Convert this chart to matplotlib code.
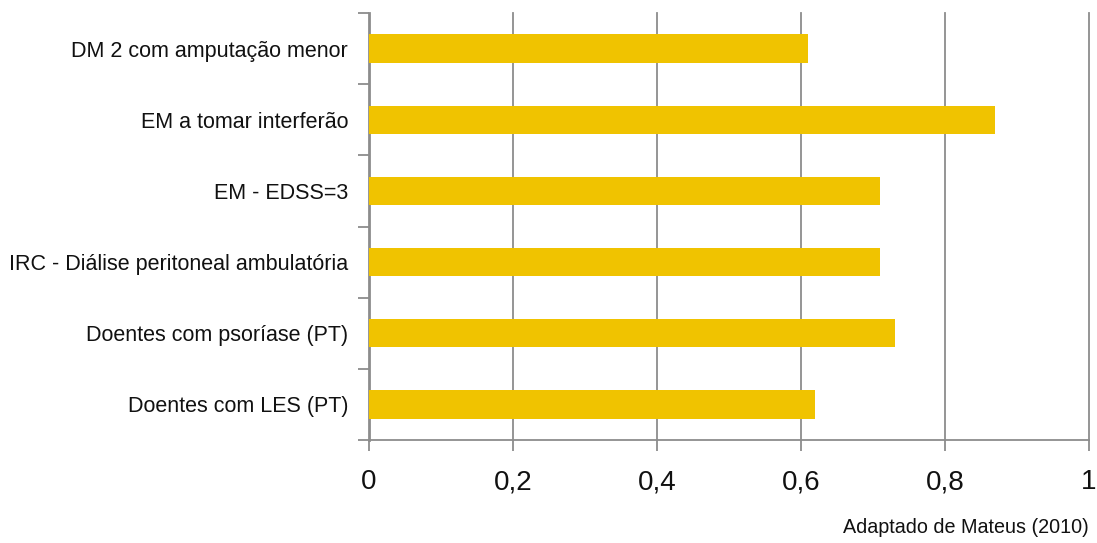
import matplotlib.pyplot as plt
import numpy as np

plt.rcParams['font.family'] = ['Liberation Sans', 'DejaVu Sans']

categorias = [
    'DM 2 com amputação menor',
    'EM a tomar interferão',
    'EM - EDSS=3',
    'IRC - Diálise peritoneal ambulatória',
    'Doentes com psoríase (PT)',
    'Doentes com LES (PT)',
]
valores = [0.61, 0.87, 0.71, 0.71, 0.73, 0.62]
xticks = [0, 0.2, 0.4, 0.6, 0.8, 1]
xtick_labels = ['0', '0,2', '0,4', '0,6', '0,8', '1']

fig = plt.figure(figsize=(10.97, 5.43), dpi=100)
ax = fig.add_axes([0.3364, 0.1897, 0.6563, 0.7863])

n = len(categorias)
pos = np.arange(n)[::-1]
ax.barh(pos, valores, height=0.4, color='#F0C300', zorder=3)

ax.set_xlim(0, 1)
ax.set_ylim(-0.5, n - 0.5)

# grelha vertical
ax.set_xticks(xticks)
ax.set_xticklabels(xtick_labels, fontsize=20, color='#111111')
for x in xticks[1:]:
    ax.axvline(x, color='#8c8c8c', linewidth=1.3, zorder=0, clip_on=False)

# rótulos das categorias entre marcas
ax.set_yticks(pos)
ax.set_yticklabels(categorias, fontsize=15.5, color='#111111')
ax.tick_params(axis='y', length=0, pad=15)
ax.set_yticks(np.arange(n + 1) - 0.5, minor=True)
ax.tick_params(axis='y', which='minor', length=8, width=1.3, color='#8c8c8c')
ax.tick_params(axis='x', length=8, width=1.3, color='#8c8c8c', pad=13)

for s in ['top', 'right']:
    ax.spines[s].set_visible(False)
ax.spines['left'].set_color('#8c8c8c')
ax.spines['left'].set_linewidth(2)
ax.spines['bottom'].set_color('#8c8c8c')
ax.spines['bottom'].set_linewidth(1.3)

fig.text(0.9927, 0.0285, 'Adaptado de Mateus (2010)', ha='right', va='center',
         fontsize=14.2, color='#111111')

fig.savefig('out.png', dpi=100)
